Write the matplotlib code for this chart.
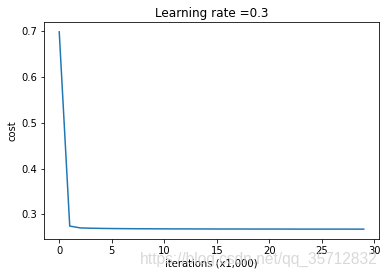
import numpy as np
import matplotlib
matplotlib.use("Agg")
import matplotlib.pyplot as plt

# cost values (one per 1,000 iterations)
iterations = np.arange(30)
costs = [0.698, 0.2745, 0.2705, 0.2698, 0.2694, 0.2691, 0.2689, 0.2687,
         0.2686, 0.2685, 0.2684, 0.2683, 0.2683, 0.2682, 0.2682, 0.2681,
         0.2681, 0.2681, 0.2680, 0.2680, 0.2680, 0.2680, 0.2679, 0.2679,
         0.2679, 0.2679, 0.2679, 0.2679, 0.2678, 0.2678]
learning_rate = 0.3

fig = plt.figure(figsize=(387 / 72, 278 / 72), dpi=72)
ax = fig.add_axes([44 / 387, 1 - 239 / 278, (379 - 44) / 387, (239 - 22) / 278])
ax.plot(iterations, costs, color="#1f77b4")
ax.set_ylabel("cost")
ax.set_xlabel("iterations (x1,000)", labelpad=2)
ax.set_title("Learning rate =" + str(learning_rate), pad=5)
ax.set_xticks([0, 5, 10, 15, 20, 25, 30])

# watermark
fig.text(378 / 387, 1 - 259 / 278, "https://blog.csdn.net/qq_35712832", ha="right", va="center",
         fontsize=15.5, family="Liberation Sans", color="#d0d0d0", alpha=0.8)

fig.savefig("out.png", dpi=72)
